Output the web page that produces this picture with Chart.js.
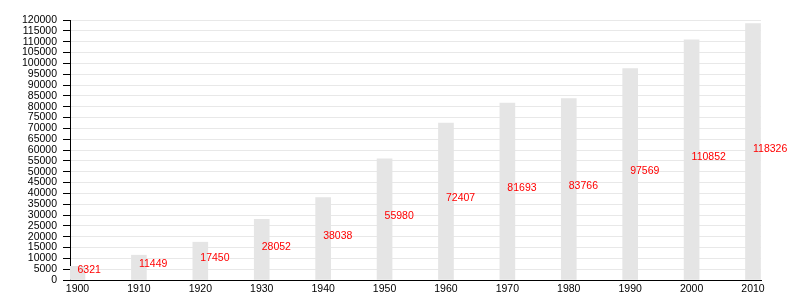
<!DOCTYPE html>
<html>
<head>
<meta charset="utf-8">
<script src="https://cdn.jsdelivr.net/npm/chart.js@4/dist/chart.umd.min.js"></script>
<style>
  html, body { margin: 0; padding: 0; background: #fff; }
  #chart { display: block; }
</style>
</head>
<body>
<canvas id="chart" width="800" height="300"></canvas>
<script>
const years = [1900, 1910, 1920, 1930, 1940, 1950, 1960, 1970, 1980, 1990, 2000, 2010]
const population = [6321, 11449, 17450, 28052, 38038, 55980, 72407, 81693, 83766, 97569, 110852, 118326]
const yMax = 120000
const yStep = 5000

// red value labels, drawn at half the bar height, starting at the bar centre
const valueLabels = {
  id: 'valueLabels',
  afterDatasetsDraw(chart) {
    const { ctx } = chart
    const meta = chart.getDatasetMeta(0)
    const yScale = chart.scales.y
    ctx.save()
    ctx.font = '10.5px "Liberation Sans", Arial, sans-serif'
    ctx.fillStyle = '#ff0000'
    ctx.textAlign = 'left'
    ctx.textBaseline = 'middle'
    meta.data.forEach((bar, idx) => {
      const v = population[idx]
      ctx.fillText(String(v), bar.x, yScale.getPixelForValue(v / 2) - 3)
    })
    ctx.restore()
  }
}

const ctx = document.getElementById('chart').getContext('2d')
new Chart(ctx, {
  type: 'bar',
  data: {
    datasets: [{
      data: years.map((x, idx) => ({ x, y: population[idx] })),
      backgroundColor: '#e5e5e5',
      borderWidth: 0,
      barThickness: 15
    }]
  },
  options: {
    responsive: false,
    animation: false,
    layout: { padding: { top: 20, right: 39, left: 0, bottom: 0 } },
    plugins: {
      legend: { display: false },
      tooltip: { enabled: false }
    },
    scales: {
      x: {
        type: 'linear',
        offset: false,
        min: 1898.78,
        max: 2011.3,
        afterBuildTicks: (scale) => { scale.ticks = years.map(value => ({ value })) },
        afterFit: (scale) => { scale.height = 20 },
        grid: { drawOnChartArea: false, drawTicks: false },
        border: { display: true, color: '#000', width: 1 },
        ticks: {
          autoSkip: false,
          maxRotation: 0,
          padding: 3,
          color: '#000',
          font: { family: '"Liberation Sans", Arial, sans-serif', size: 10.5 },
          callback: (v) => String(v)
        }
      },
      y: {
        min: 0,
        max: yMax,
        afterFit: (scale) => { scale.width = 70 },
        grid: { color: '#e8e8e8', tickColor: '#000', tickLength: 7 },
        border: { display: true, color: '#000', width: 1 },
        ticks: {
          autoSkip: false,
          stepSize: yStep,
          padding: 6,
          color: '#000',
          font: { family: '"Liberation Sans", Arial, sans-serif', size: 10.5 },
          callback: (v) => String(v)
        }
      }
    }
  },
  plugins: [valueLabels]
})
</script>
</body>
</html>
